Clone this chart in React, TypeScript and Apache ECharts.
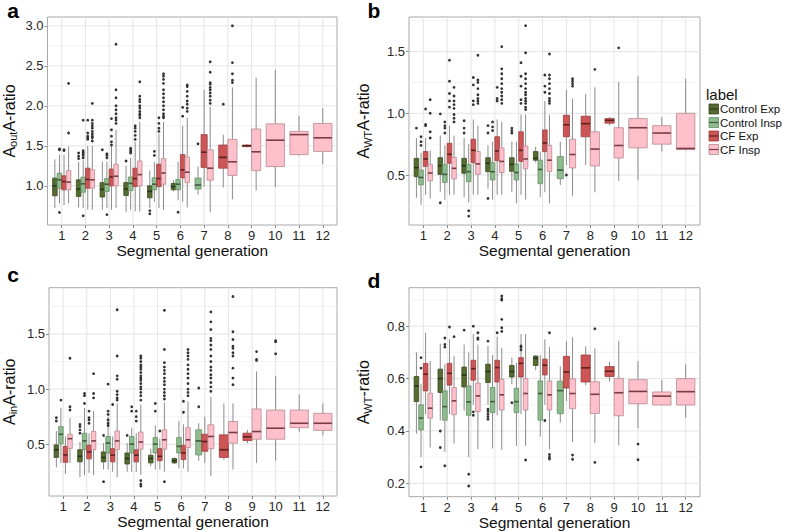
import React, { useEffect, useRef } from 'react';
import * as echarts from 'echarts';

const FONT = '"Liberation Sans", Arial, Helvetica, sans-serif';

// ---------- categories / labels ----------
const generations = [1, 2, 3, 4, 5, 6, 7, 8, 9, 10, 11, 12];
const groupLabels = ['Control Exp', 'Control Insp', 'CF Exp', 'CF Insp'];
const groupFills = ['#556b2f', '#8fbc8f', '#cd5555', '#ffc0cb'];
const groupBorders = ['#3a4a22', '#668f66', '#9a3c3c', '#b58a90'];
const groupMedians = ['#27331a', '#3f5a3f', '#5c2020', '#7a3b44'];

type Box = number[] | null; // [lower whisker, Q1, median, Q3, upper whisker]

// ---------- panel a : Aout A-ratio ----------
const aCtrlExp: Box[] = [
  [0.72, 0.875, 1.0, 1.096, 1.33], [0.73, 0.867, 0.96, 1.075, 1.3], [0.7, 0.86, 0.955, 1.04, 1.3],
  [0.67, 0.88, 0.96, 1.04, 1.25], [0.72, 0.85, 0.93, 1.0, 1.19], [0.93, 0.95, 0.99, 1.03, 1.07],
  null, null, null, null, null, null,
];
const aCtrlInsp: Box[] = [
  [0.78, 0.97, 1.075, 1.158, 1.39], [0.72, 0.92, 1.025, 1.108, 1.32], [0.72, 0.93, 1.02, 1.09, 1.3],
  [0.7, 0.94, 1.03, 1.11, 1.35], [0.8, 0.95, 1.02, 1.1, 1.3], [0.82, 0.95, 1.02, 1.08, 1.3],
  [0.89, 0.96, 1.01, 1.097, 1.24], null, null, null, null, null,
];
const aCfExp: Box[] = [
  [0.76, 0.95, 1.054, 1.125, 1.39], [0.7, 0.97, 1.08, 1.22, 1.5], [0.7, 1.0, 1.11, 1.21, 1.5],
  [0.68, 0.99, 1.09, 1.22, 1.55], [0.72, 0.99, 1.09, 1.27, 1.65], [0.8, 1.1, 1.2, 1.39, 1.75],
  [0.99, 1.23, 1.42, 1.64, 2.2], [0.98, 1.22, 1.355, 1.51, 1.64], [1.48, 1.49, 1.5, 1.51, 1.52],
  null, null, null,
];
const aCfInsp: Box[] = [
  [0.78, 0.95, 1.046, 1.19, 1.49], [0.7, 0.97, 1.075, 1.2, 1.5], [0.72, 1.0, 1.12, 1.27, 1.7],
  [0.68, 1.0, 1.14, 1.31, 1.8], [0.7, 1.02, 1.16, 1.34, 1.8], [0.73, 1.04, 1.17, 1.36, 1.85],
  [0.67, 1.07, 1.22, 1.45, 1.99], [0.83, 1.13, 1.3, 1.58, 2.23], [0.94, 1.19, 1.425, 1.71, 2.35],
  [0.985, 1.24, 1.57, 1.775, 2.45], [1.375, 1.39, 1.64, 1.68, 1.875], [1.27, 1.43, 1.6, 1.78, 1.97],
];
const aCtrlExpOut = [[], [1.41, 1.37, 1.34], [1.45], [1.31], [0.69, 0.65], [], [], [], [], [], [], []];
const aCtrlInspOut = [
  [0.667, 1.45, 1.46], [1.82, 1.44, 1.42, 1.4, 1.38, 1.35, 0.625], [1.4, 1.38, 1.35, 0.64],
  [1.47, 1.45, 1.43, 1.41], [1.43, 1.38], [0.67], [1.525], [], [], [], [], [],
];
const aCfExpOut = [
  [1.45, 1.44], [1.82, 1.66, 1.62, 1.6, 1.58], [1.84, 1.7, 1.62, 1.55, 1.51], [1.75, 1.72, 1.68, 1.63, 1.58],
  [1.85, 1.78, 1.72, 1.68], [1.98, 1.87], [], [2.02], [], [], [], [],
];
const aCfInspOut = [
  [2.28, 1.66], [2.03, 1.82, 1.78, 1.75, 1.72, 1.68, 1.65, 1.62, 1.6, 1.56],
  [2.77, 2.2, 2.1, 2.0, 1.95, 1.9, 1.85, 1.82, 1.78], [2.3, 2.12, 2.08, 2.05, 2.0, 1.97, 1.93, 1.9, 1.88, 1.85],
  [2.4, 2.37, 2.33, 2.28, 2.2, 2.15, 2.1, 2.05, 2.0, 1.95, 1.9, 1.87, 1.85],
  [2.26, 2.24, 2.18, 2.12, 2.06, 2.02, 1.97, 1.93], [2.55, 2.42, 2.29, 2.27, 2.23, 2.2, 2.16, 2.12, 2.07, 2.03],
  [3.0, 2.54, 2.4, 2.32, 2.29], [], [], [], [],
];
const aYTicks = [1.0, 1.5, 2.0, 2.5, 3.0];
const aYMinor = [0.75, 1.25, 1.75, 2.25, 2.75];

// ---------- panel b : AWT A-ratio ----------
const bCtrlExp: Box[] = [
  [0.316, 0.486, 0.56, 0.635, 0.8], [0.365, 0.505, 0.575, 0.64, 0.82], [0.32, 0.514, 0.575, 0.635, 0.8],
  [0.39, 0.527, 0.595, 0.64, 0.74], [0.36, 0.53, 0.586, 0.64, 0.77], [0.6, 0.62, 0.635, 0.69, 0.73],
  null, null, null, null, null, null,
];
const bCtrlInsp: Box[] = [
  [0.26, 0.42, 0.48, 0.54, 0.68], [0.3, 0.44, 0.505, 0.586, 0.74], [0.28, 0.446, 0.527, 0.586, 0.75],
  [0.3, 0.46, 0.527, 0.6, 0.77], [0.27, 0.46, 0.52, 0.59, 0.77], [0.32, 0.43, 0.545, 0.62, 0.69],
  [0.42, 0.47, 0.54, 0.65, 0.77], null, null, null, null, null,
];
const bCfExp: Box[] = [
  [0.34, 0.57, 0.63, 0.69, 0.8], [0.34, 0.595, 0.668, 0.757, 0.9], [0.34, 0.6, 0.7, 0.79, 0.95],
  [0.34, 0.616, 0.695, 0.81, 0.95], [0.34, 0.61, 0.7, 0.85, 0.99], [0.36, 0.69, 0.76, 0.865, 1.1],
  [0.58, 0.81, 0.907, 0.984, 1.19], [0.58, 0.81, 0.916, 0.976, 1.155], [0.9, 0.92, 0.943, 0.957, 0.97],
  null, null, null,
];
const bCfInsp: Box[] = [
  [0.31, 0.454, 0.516, 0.586, 0.7], [0.34, 0.468, 0.554, 0.643, 0.82], [0.34, 0.505, 0.59, 0.69, 0.9],
  [0.34, 0.52, 0.61, 0.72, 0.93], [0.3, 0.55, 0.63, 0.735, 0.99], [0.27, 0.53, 0.62, 0.74, 0.99],
  [0.33, 0.557, 0.666, 0.79, 1.12], [0.36, 0.573, 0.71, 0.85, 1.21], [0.454, 0.638, 0.739, 0.883, 1.255],
  [0.46, 0.72, 0.883, 0.957, 1.3], [0.69, 0.75, 0.84, 0.9, 0.97], [0.7, 0.706, 0.715, 1.0, 1.28],
];
const bCtrlExpOut = [[0.88], [0.995, 0.275], [0.94, 0.88, 0.84], [0.9, 0.84, 0.31], [0.88, 0.86, 0.84], [], [], [], [], [], [], []];
const bCtrlInspOut = [[0.81, 0.77, 0.74], [0.93, 0.9, 0.88, 0.84], [0.21, 0.167], [0.93, 0.89, 0.86], [], [], [], [], [], [], [], []];
const bCfExpOut = [
  [1.035, 0.91, 0.9], [1.43, 1.26, 1.16, 1.1, 1.05], [1.29, 1.23, 1.1, 1.07], [1.21, 1.12, 1.1],
  [1.41, 1.3, 1.22, 1.11, 1.08], [1.31, 1.22, 1.17], [0.5], [], [], [], [], [],
];
const bCfInspOut = [
  [1.11, 1.0, 0.85, 0.8], [1.21, 1.14, 1.1, 1.07, 1.04, 0.99, 0.96, 0.93], [1.47, 1.27, 1.25, 1.2, 1.15, 1.12, 1.1, 1.08],
  [1.54, 1.36, 1.32, 1.28, 1.24, 1.2, 1.17, 1.14, 1.11, 1.08],
  [1.71, 1.49, 1.32, 1.28, 1.24, 1.2, 1.17, 1.15, 1.12, 1.1, 1.08, 1.05, 1.03],
  [1.48, 1.31, 1.28, 1.24, 1.2, 1.16, 1.12, 1.1, 1.08], [1.28, 1.26, 1.24, 1.22], [1.356], [1.53], [], [], [],
];
const bYTicks = [0.5, 1.0, 1.5];
const bYMinor = [0.25, 0.75, 1.25, 1.75];

// ---------- panel c : Ain A-ratio ----------
const cCtrlExp: Box[] = [
  [0.29, 0.38, 0.45, 0.494, 0.62], [0.2, 0.34, 0.39, 0.45, 0.52], [0.27, 0.34, 0.38, 0.43, 0.51],
  [0.25, 0.32, 0.37, 0.42, 0.51], [0.3, 0.33, 0.37, 0.4, 0.46], [0.32, 0.33, 0.35, 0.37, 0.38],
  null, null, null, null, null, null,
];
const cCtrlInsp: Box[] = [
  [0.33, 0.503, 0.59, 0.66, 0.83], [0.22, 0.45, 0.53, 0.6, 0.83], [0.27, 0.42, 0.51, 0.57, 0.75],
  [0.25, 0.42, 0.5, 0.57, 0.65], [0.27, 0.42, 0.5, 0.56, 0.67], [0.28, 0.42, 0.48, 0.56, 0.71],
  [0.35, 0.403, 0.53, 0.63, 0.69], null, null, null, null, null,
];
const cCfExp: Box[] = [
  [0.23, 0.336, 0.403, 0.48, 0.57], [0.24, 0.367, 0.43, 0.49, 0.6], [0.25, 0.34, 0.4, 0.46, 0.57],
  [0.25, 0.34, 0.4, 0.45, 0.6], [0.27, 0.35, 0.39, 0.46, 0.55], [0.28, 0.36, 0.42, 0.49, 0.68],
  [0.33, 0.436, 0.524, 0.59, 0.75], [0.36, 0.38, 0.45, 0.585, 0.87], [0.51, 0.533, 0.567, 0.6, 0.63],
  null, null, null,
];
const cCfInsp: Box[] = [
  [0.33, 0.46, 0.55, 0.59, 0.74], [0.22, 0.45, 0.53, 0.615, 0.8], [0.2, 0.45, 0.53, 0.62, 0.87],
  [0.22, 0.455, 0.52, 0.61, 0.86], [0.25, 0.455, 0.54, 0.63, 0.88], [0.25, 0.47, 0.54, 0.65, 0.89],
  [0.21, 0.46, 0.57, 0.676, 0.93], [0.27, 0.51, 0.606, 0.706, 0.87], [0.33, 0.545, 0.615, 0.82, 1.16],
  [0.35, 0.545, 0.645, 0.81, 1.12], [0.615, 0.65, 0.69, 0.81, 0.95], [0.58, 0.625, 0.69, 0.78, 0.87],
];
const cCtrlExpOut = [[0.74, 0.71], [0.68, 0.66, 0.63, 0.6], [0.58, 0.16], [0.58], [], [], [], [], [], [], [], []];
const cCtrlInspOut = [[0.9], [0.96, 0.94, 0.87], [1.045, 0.8, 0.77, 0.72, 0.69, 0.67], [0.84, 0.8], [0.87, 0.8], [], [1.01, 0.84], [], [], [], [], []];
const cCfExpOut = [[], [0.8, 0.74, 0.72, 0.69], [0.86], [0.8, 0.75, 0.71], [0.62], [0.89, 0.79], [], [], [], [], [], []];
const cCfInspOut = [
  [1.28, 0.84, 0.81], [1.14, 0.96, 0.92], [1.72, 1.3, 1.12, 1.09, 0.98, 0.95, 0.92, 0.9],
  [1.3, 1.28, 1.25, 1.22, 1.2, 1.18, 1.15, 1.12, 1.1, 1.08, 1.05, 1.02, 1.0, 0.97, 0.94, 0.9, 0.17, 0.14, 0.12],
  [1.715, 1.36, 1.24, 1.2, 1.17, 1.14, 1.1, 1.07, 1.04, 1.0, 0.97, 0.94, 0.91, 0.16],
  [1.36, 1.33, 1.3, 1.27, 1.22, 1.18, 1.14, 1.1, 1.05, 1.0, 0.97, 0.94],
  [1.7, 1.61, 1.54, 1.46, 1.44, 1.4, 1.36, 1.3, 1.25, 1.2, 1.17, 1.13, 1.1, 1.06, 1.02, 0.98],
  [1.84, 1.52, 1.45, 1.39, 1.37, 1.33, 1.3, 1.19, 1.1, 1.04], [1.34, 1.27, 1.26], [1.44, 1.43, 1.32], [], [],
];
const cYTicks = [0.5, 1.0, 1.5];
const cYMinor = [0.25, 0.75, 1.25, 1.75];

// ---------- panel d : AWT-ratio ----------
const dCtrlExp: Box[] = [
  [0.39, 0.512, 0.572, 0.608, 0.7], [0.44, 0.547, 0.6, 0.636, 0.733], [0.477, 0.568, 0.614, 0.644, 0.73],
  [0.5, 0.585, 0.627, 0.655, 0.725], [0.578, 0.606, 0.627, 0.65, 0.68], [0.632, 0.65, 0.677, 0.686, 0.69],
  null, null, null, null, null, null,
];
const dCtrlInsp: Box[] = [
  [0.3, 0.404, 0.449, 0.5, 0.58], [0.32, 0.441, 0.493, 0.553, 0.655], [0.3, 0.46, 0.511, 0.572, 0.7],
  [0.333, 0.47, 0.512, 0.566, 0.69], [0.343, 0.47, 0.512, 0.563, 0.66], [0.378, 0.441, 0.543, 0.591, 0.69],
  [0.432, 0.466, 0.554, 0.59, 0.647], null, null, null, null, null,
];
const dCfExp: Box[] = [
  [0.464, 0.553, 0.617, 0.658, 0.775], [0.464, 0.575, 0.62, 0.658, 0.75], [0.5, 0.594, 0.638, 0.67, 0.77],
  [0.46, 0.587, 0.642, 0.67, 0.76], [0.464, 0.606, 0.658, 0.68, 0.77], [0.5, 0.614, 0.651, 0.674, 0.75],
  [0.514, 0.564, 0.625, 0.685, 0.742], [0.574, 0.587, 0.641, 0.69, 0.723], [0.588, 0.608, 0.628, 0.646, 0.665],
  null, null, null,
];
const dCfInsp: Box[] = [
  [0.337, 0.449, 0.487, 0.544, 0.667], [0.352, 0.462, 0.515, 0.566, 0.686], [0.33, 0.474, 0.534, 0.583, 0.73],
  [0.327, 0.48, 0.538, 0.597, 0.718], [0.343, 0.48, 0.543, 0.6, 0.77], [0.33, 0.48, 0.538, 0.591, 0.72],
  [0.358, 0.485, 0.543, 0.599, 0.758], [0.354, 0.467, 0.54, 0.588, 0.715], [0.345, 0.458, 0.546, 0.601, 0.745],
  [0.41, 0.504, 0.551, 0.596, 0.667], [0.499, 0.499, 0.533, 0.549, 0.594], [0.45, 0.499, 0.55, 0.6, 0.654],
];
const dCtrlExpOut = [[], [0.4, 0.337], [0.785], [0.743, 0.483, 0.475, 0.465, 0.455, 0.445], [0.508], [], [], [], [], [], [], []];
const dCtrlInspOut = [[0.68, 0.64, 0.263], [0.755, 0.73, 0.72, 0.267], [0.235, 0.19], [], [], [], [], [], [], [], [], []];
const dCfExpOut = [[], [0.797], [0.8, 0.473, 0.46], [0.775], [0.725, 0.72, 0.71], [0.44], [], [], [], [], [], []];
const dCfInspOut = [
  [], [0.76], [0.775, 0.755, 0.75], [0.915, 0.905, 0.9, 0.826, 0.794, 0.78], [0.289], [0.775, 0.31, 0.3, 0.293],
  [0.308, 0.292], [0.79, 0.28], [], [0.35, 0.29], [], [],
];
const dYTicks = [0.2, 0.4, 0.6, 0.8];
const dYMinor = [0.3, 0.5, 0.7, 0.9];

// ---------- layout ----------
const X_MIN = 0.4;
const X_MAX = 12.6;
const DODGE = 0.77;

const panels = [
  { letter: 'a', sub: 'out', tail: 'A-ratio', boxes: [aCtrlExp, aCtrlInsp, aCfExp, aCfInsp],
    outs: [aCtrlExpOut, aCtrlInspOut, aCfExpOut, aCfInspOut], yMin: 0.51, yMax: 3.11, ticks: aYTicks, minor: aYMinor,
    grid: { left: 45.7, top: 17, width: 291.3, height: 208 }, nameGap: 29, letterPos: [13, 10] },
  { letter: 'b', sub: 'WT', tail: 'A-ratio', boxes: [bCtrlExp, bCtrlInsp, bCfExp, bCfInsp],
    outs: [bCtrlExpOut, bCtrlInspOut, bCfExpOut, bCfInspOut], yMin: 0.095, yMax: 1.78, ticks: bYTicks, minor: bYMinor,
    grid: { left: 409, top: 17, width: 291, height: 208 }, nameGap: 36, letterPos: [374, 10] },
  { letter: 'c', sub: 'in', tail: 'A-ratio', boxes: [cCtrlExp, cCtrlInsp, cCfExp, cCfInsp],
    outs: [cCtrlExpOut, cCtrlInspOut, cCfExpOut, cCfInspOut], yMin: 0.03, yMax: 1.92, ticks: cYTicks, minor: cYMinor,
    grid: { left: 45.7, top: 287.7, width: 291.3, height: 208.3 }, nameGap: 30.5, letterPos: [13, 274] },
  { letter: 'd', sub: 'WT', tail: '-ratio', boxes: [dCtrlExp, dCtrlInsp, dCfExp, dCfInsp],
    outs: [dCtrlExpOut, dCtrlInspOut, dCfExpOut, dCfInspOut], yMin: 0.149, yMax: 0.947, ticks: dYTicks, minor: dYMinor,
    grid: { left: 409, top: 287.7, width: 291, height: 209 }, nameGap: 36, letterPos: [374, 280] },
];

function buildOption() {
  const grids: any[] = [];
  const xAxes: any[] = [];
  const yAxes: any[] = [];
  const series: any[] = [];
  const graphic: any[] = [];

  panels.forEach((p, pi) => {
    grids.push({ ...p.grid, show: true, borderColor: '#a9a9a9', borderWidth: 1, backgroundColor: '#ffffff' });
    xAxes.push({
      type: 'value', gridIndex: pi, min: X_MIN, max: X_MAX, splitNumber: 12,
      axisLine: { show: false }, splitLine: { show: false },
      axisTick: { show: true, customValues: generations, length: 3, lineStyle: { color: '#8a8a8a' } },
      axisLabel: { customValues: generations, fontSize: 13, color: '#262626', margin: 4, fontFamily: FONT,
        formatter: (v: number) => String(Math.round(v)) },
      name: 'Segmental generation', nameLocation: 'middle', nameGap: 17,
      nameTextStyle: { fontSize: 15.5, color: '#111', fontFamily: FONT },
    });
    yAxes.push({
      type: 'value', gridIndex: pi, min: p.yMin, max: p.yMax,
      axisLine: { show: false }, splitLine: { show: false },
      axisTick: { show: true, customValues: p.ticks, length: 3, lineStyle: { color: '#8a8a8a' } },
      axisLabel: { customValues: p.ticks, fontSize: 13, color: '#262626', margin: 4, fontFamily: FONT,
        formatter: (v: number) => v.toFixed(1) },
      name: `{m|A}{s|${p.sub}}{m|${p.tail}}`, nameLocation: 'middle', nameGap: p.nameGap,
      nameTextStyle: {
        rich: {
          m: { fontSize: 16, lineHeight: 19, color: '#111', fontFamily: FONT },
          s: { fontSize: 11, lineHeight: 11, verticalAlign: 'bottom', color: '#111', fontFamily: FONT },
        },
      },
    });

    const present: number[][] = generations.map((g, k) =>
      p.boxes.map((arr, gi) => (arr[k] ? gi : -1)).filter((gi) => gi >= 0));
    const slot = (gen: number, gi: number) => {
      const list = present[gen - 1];
      const n = Math.max(list.length, 1);
      const s = Math.max(list.indexOf(gi), 0);
      const w = DODGE / n;
      return { center: gen - DODGE / 2 + (s + 0.5) * w, half: w / 2 };
    };

    // grid lines (minor, major, vertical)
    series.push({
      type: 'custom', xAxisIndex: pi, yAxisIndex: pi, silent: true, z: 1,
      data: p.minor.filter((v) => v > p.yMin && v < p.yMax).map((v) => [X_MIN, v]),
      renderItem: (params: any, api: any) => {
        const a = api.coord([X_MIN, api.value(1)]);
        const b = api.coord([X_MAX, api.value(1)]);
        return { type: 'line', shape: { x1: a[0], y1: a[1], x2: b[0], y2: b[1] }, style: { stroke: '#f0f0f0', lineWidth: 0.8 } };
      },
    });
    series.push({
      type: 'custom', xAxisIndex: pi, yAxisIndex: pi, silent: true, z: 1,
      data: p.ticks.map((v) => [X_MIN, v]),
      renderItem: (params: any, api: any) => {
        const a = api.coord([X_MIN, api.value(1)]);
        const b = api.coord([X_MAX, api.value(1)]);
        return { type: 'line', shape: { x1: a[0], y1: a[1], x2: b[0], y2: b[1] }, style: { stroke: '#e4e4e4', lineWidth: 1 } };
      },
    });
    series.push({
      type: 'custom', xAxisIndex: pi, yAxisIndex: pi, silent: true, z: 1,
      data: generations.map((g) => [g, p.yMin]),
      renderItem: (params: any, api: any) => {
        const a = api.coord([api.value(0), p.yMin]);
        const b = api.coord([api.value(0), p.yMax]);
        return { type: 'line', shape: { x1: a[0], y1: a[1], x2: b[0], y2: b[1] }, style: { stroke: '#e4e4e4', lineWidth: 1 } };
      },
    });

    p.boxes.forEach((arr, gi) => {
      const data = arr.map((b, k) => (b ? [k + 1, ...b] : null)).filter((d) => d !== null);
      series.push({
        type: 'custom', name: groupLabels[gi], xAxisIndex: pi, yAxisIndex: pi, z: 3,
        encode: { x: 0, y: [1, 2, 3, 4, 5] },
        data,
        renderItem: (params: any, api: any) => {
          const gen = api.value(0);
          const lo = api.value(1), q1 = api.value(2), med = api.value(3), q3 = api.value(4), hi = api.value(5);
          const { center, half } = slot(gen, gi);
          const pHi = api.coord([center, hi]);
          const pLo = api.coord([center, lo]);
          const tl = api.coord([center - half, q3]);
          const br = api.coord([center + half, q1]);
          const ml = api.coord([center - half, med]);
          const mr = api.coord([center + half, med]);
          return {
            type: 'group',
            children: [
              { type: 'line', shape: { x1: pHi[0], y1: pHi[1], x2: pHi[0], y2: tl[1] }, style: { stroke: '#8c8c8c', lineWidth: 1 } },
              { type: 'line', shape: { x1: pLo[0], y1: br[1], x2: pLo[0], y2: pLo[1] }, style: { stroke: '#8c8c8c', lineWidth: 1 } },
              { type: 'rect', shape: { x: tl[0], y: tl[1], width: br[0] - tl[0], height: Math.max(br[1] - tl[1], 1) },
                style: { fill: groupFills[gi], stroke: groupBorders[gi], lineWidth: 0.8 } },
              { type: 'line', shape: { x1: ml[0], y1: ml[1], x2: mr[0], y2: mr[1] }, style: { stroke: groupMedians[gi], lineWidth: 1.6 } },
            ],
          };
        },
      });
      const outData: number[][] = [];
      p.outs[gi].forEach((vals, k) => vals.forEach((v) => outData.push([k + 1, v])));
      series.push({
        type: 'custom', name: groupLabels[gi] + ' outliers', xAxisIndex: pi, yAxisIndex: pi, z: 4,
        encode: { x: 0, y: 1 },
        data: outData,
        renderItem: (params: any, api: any) => {
          const gen = api.value(0);
          const { center } = slot(gen, gi);
          const pt = api.coord([center, api.value(1)]);
          return { type: 'circle', shape: { cx: pt[0], cy: pt[1], r: 1.4 }, style: { fill: '#333333' } };
        },
      });
    });

    graphic.push({
      type: 'text', x: p.letterPos[0], y: p.letterPos[1],
      style: { text: p.letter, fontSize: 21, lineHeight: 15, fontWeight: 'bold', fontFamily: FONT, fill: '#000', align: 'center', verticalAlign: 'middle' },
    });
  });

  // legend (ggplot style)
  graphic.push({
    type: 'text', x: 706, y: 94,
    style: { text: 'label', fontSize: 15, lineHeight: 12, fontFamily: FONT, fill: '#111', align: 'left', verticalAlign: 'middle' },
  });
  const rowY = [109, 122.5, 136, 149.5];
  groupLabels.forEach((lab, gi) => {
    const cy = rowY[gi];
    graphic.push({
      type: 'rect', shape: { x: 709, y: cy - 5, width: 9.5, height: 10 },
      style: { fill: groupFills[gi], stroke: groupBorders[gi], lineWidth: 0.8 },
    });
    graphic.push({
      type: 'line', shape: { x1: 709, y1: cy, x2: 718.5, y2: cy },
      style: { stroke: groupMedians[gi], lineWidth: 1.2 },
    });
    graphic.push({
      type: 'text', x: 720, y: cy,
      style: { text: lab, fontSize: 11.5, lineHeight: 10, fontFamily: FONT, fill: '#111', align: 'left', verticalAlign: 'middle' },
    });
  });

  return {
    animation: false,
    backgroundColor: '#ffffff',
    textStyle: { fontFamily: FONT },
    grid: grids,
    xAxis: xAxes,
    yAxis: yAxes,
    series,
    graphic,
  };
}

export default function App() {
  const ref = useRef<HTMLDivElement>(null);
  useEffect(() => {
    if (!ref.current) return;
    const chart = echarts.init(ref.current, undefined, { renderer: 'svg' });
    chart.setOption(buildOption() as any);
    return () => chart.dispose();
  }, []);
  return <div ref={ref} style={{ position: 'absolute', left: 0, top: 0, width: 787, height: 532 }} />;
}
